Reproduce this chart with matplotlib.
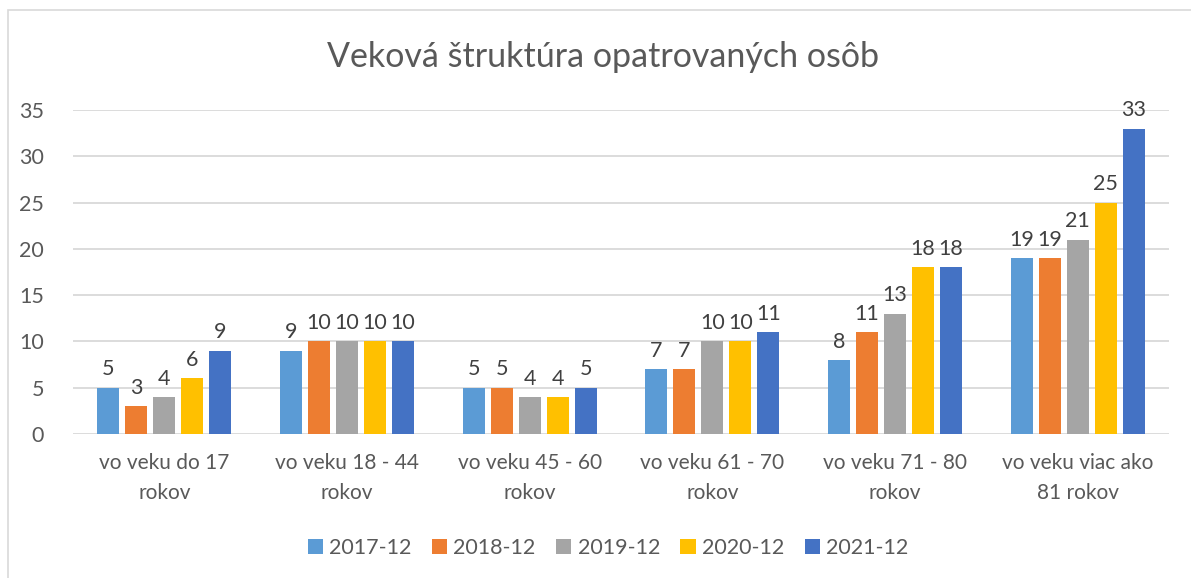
import matplotlib
matplotlib.use("Agg")
import matplotlib.pyplot as plt
import numpy as np
from matplotlib.patches import Rectangle

categories = ["vo veku do 17\nrokov", "vo veku 18 - 44\nrokov", "vo veku 45 - 60\nrokov",
              "vo veku 61 - 70\nrokov", "vo veku 71 - 80\nrokov", "vo veku viac ako\n81 rokov"]
series_names = ["2017-12", "2018-12", "2019-12", "2020-12", "2021-12"]
v2017 = [5, 9, 5, 7, 8, 19]
v2018 = [3, 10, 5, 7, 11, 19]
v2019 = [4, 10, 4, 10, 13, 21]
v2020 = [6, 10, 4, 10, 18, 25]
v2021 = [9, 10, 5, 11, 18, 33]
series_values = [v2017, v2018, v2019, v2020, v2021]
colors = ["#5B9BD5", "#ED7D31", "#A5A5A5", "#FFC000", "#4472C4"]
yticks = [0, 5, 10, 15, 20, 25, 30, 35]
title = "Veková štruktúra opatrovaných osôb"

plt.rcParams['font.family'] = ['Lato', 'DejaVu Sans']
txt = "#595959"

W, H = 1191, 578
fig = plt.figure(figsize=(W / 100, H / 100), dpi=100)
fig.patches.append(Rectangle((8 / W, -0.5), 1.5, 1.5 - 10 / H, transform=fig.transFigure,
                             fill=False, edgecolor="#d9d9d9", linewidth=1.2, zorder=0))

ax = fig.add_axes([73 / W, 1 - 434 / H, (1169 - 73) / W, (434 - 110) / H])
x = np.arange(len(categories))
bw = 22 / 182.6
pitch = 28 / 182.6
for i, (name, vals, c) in enumerate(zip(series_names, series_values, colors)):
    pos = x + (i - 2) * pitch
    bars = ax.bar(pos, vals, width=bw, color=c, label=name, zorder=3)
    for b, v in zip(bars, vals):
        ax.annotate(str(v), (b.get_x() + b.get_width() / 2, v), xytext=(0, 6),
                    textcoords="offset points", ha="center", va="bottom",
                    fontsize=15.5, color="#404040")

ax.set_xlim(-0.5, len(categories) - 0.5)
ax.set_ylim(0, 35)
ax.set_yticks(yticks)
ax.set_xticks(x)
ax.set_xticklabels(categories, fontsize=15, color=txt, linespacing=1.62)
ax.tick_params(axis="y", length=0, pad=21, labelsize=15.5, labelcolor=txt)
ax.tick_params(axis="x", length=0, pad=14)
ax.grid(axis="y", color="#d9d9d9", linewidth=1.3, zorder=0)
for s in ax.spines.values():
    s.set_visible(False)

fig.text(603 / W, 1 - 57 / H, title, ha="center", va="center", fontsize=24.5, color=txt)

leg = fig.legend(loc="center", bbox_to_anchor=(608 / W, 1 - 548 / H), ncol=5, frameon=False,
                 fontsize=15.5, handlelength=0.7, handleheight=0.7, handletextpad=0.3,
                 columnspacing=0.95)
for t in leg.get_texts():
    t.set_color(txt)

fig.savefig("out.png", dpi=100)
